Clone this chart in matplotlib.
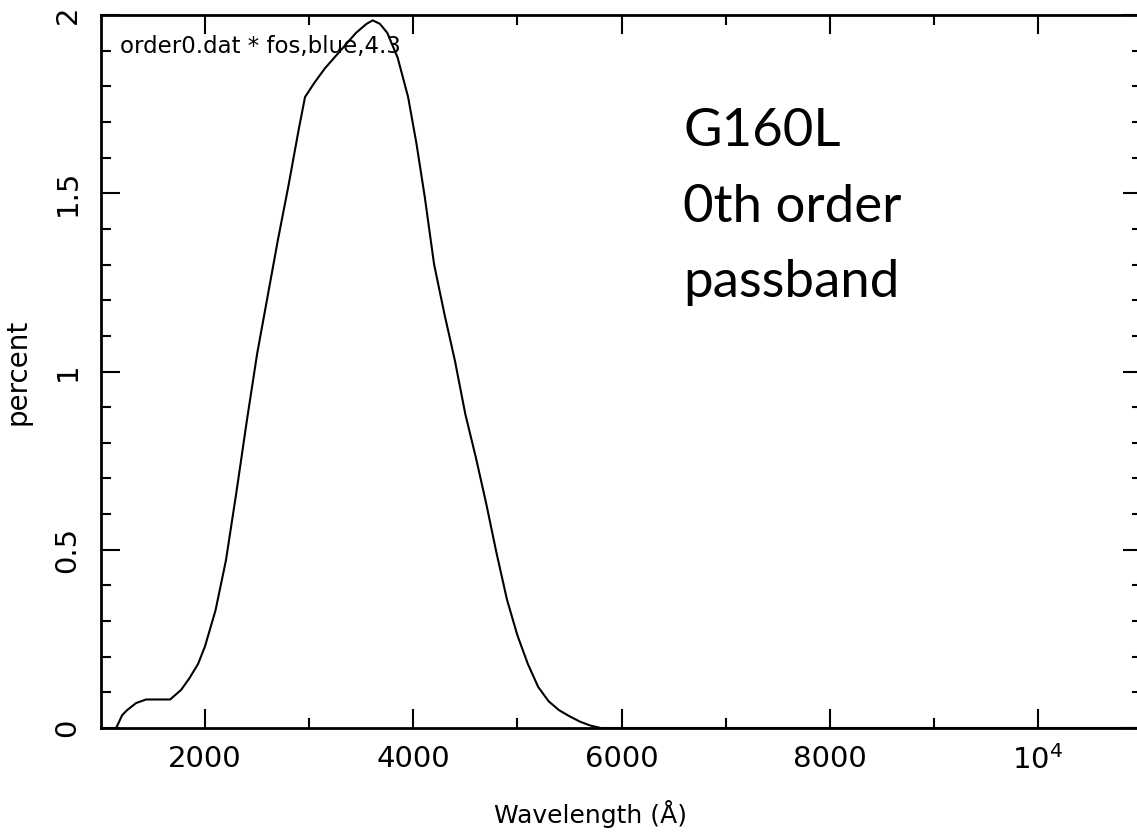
""" FOS G160L zeroth order passband """

import matplotlib
matplotlib.use('Agg')
import matplotlib.pyplot as plt
from matplotlib.ticker import MultipleLocator, FixedLocator

wavelength = [1145, 1175, 1203, 1250, 1337, 1433, 1550, 1664, 1770, 1850,
              1933, 2000, 2100, 2200, 2300, 2400, 2500, 2600, 2700, 2800,
              2900, 2960, 3050, 3150, 3300, 3450, 3550, 3610, 3680, 3750,
              3850, 3950, 4030, 4110, 4200, 4300, 4400, 4500, 4600, 4700,
              4800, 4900, 5000, 5100, 5200, 5300, 5400, 5500, 5600, 5700,
              5800, 11000]
percent = [0.0, 0.018, 0.036, 0.05, 0.07, 0.08, 0.08, 0.08, 0.107, 0.14,
           0.18, 0.23, 0.33, 0.47, 0.66, 0.86, 1.05, 1.21, 1.37, 1.52,
           1.68, 1.77, 1.81, 1.85, 1.90, 1.95, 1.975, 1.985, 1.975, 1.95,
           1.88, 1.77, 1.64, 1.49, 1.30, 1.16, 1.03, 0.88, 0.76, 0.63,
           0.49, 0.36, 0.26, 0.18, 0.115, 0.075, 0.05, 0.033, 0.018, 0.007,
           0.0, 0.0]

x_ticks = [2000, 4000, 6000, 8000, 10000]
x_tick_labels = ['2000', '4000', '6000', '8000', r'$\mathregular{10^4}$']
y_ticks = [0, 0.5, 1, 1.5, 2]
y_tick_labels = ['0', '0.5', '1', '1.5', '2']


def draw_passband():
    fig = plt.figure(figsize=(11.37, 8.34), dpi=100)
    ax = fig.add_axes([101 / 1137, 106 / 834, 1041 / 1137, 713 / 834])

    ax.plot(wavelength, percent, color='black', linewidth=1.5)

    ax.set_xlim(1000, 11000)
    ax.set_ylim(0, 2)

    ax.xaxis.set_major_locator(FixedLocator(x_ticks))
    ax.xaxis.set_minor_locator(FixedLocator([3000, 5000, 7000, 9000]))
    ax.set_xticklabels(x_tick_labels)
    ax.yaxis.set_major_locator(FixedLocator(y_ticks))
    ax.yaxis.set_minor_locator(MultipleLocator(0.1))
    ax.set_yticklabels(y_tick_labels, rotation=90, va='center')

    ax.tick_params(which='both', direction='in', top=True, right=True,
                   width=1.5, colors='black')
    ax.tick_params(which='major', length=14)
    ax.tick_params(which='minor', length=7)
    ax.tick_params(axis='x', which='major', labelsize=21, pad=12)
    ax.tick_params(axis='y', which='major', labelsize=21, pad=14)

    for spine in ax.spines.values():
        spine.set_linewidth(2)

    ax.set_xlabel('Wavelength (Å)', fontsize=18)
    ax.xaxis.set_label_coords((590 - 101) / 1041, -(800 - 728) / 713)
    ax.set_ylabel('percent', fontsize=20)
    ax.yaxis.set_label_coords(-(101 - 31) / 1041, (728 - 372) / 713)

    fig.text(120 / 1137, 1 - 46 / 834, 'order0.dat * fos,blue,4.3',
             fontsize=16.5, va='center')

    # handwritten note on the original scan
    note = {'fontsize': 38, 'fontfamily': 'Lato', 'color': 'black'}
    fig.text(683 / 1137, 1 - 132 / 834, 'G160L', va='center', **note)
    fig.text(683 / 1137, 1 - 207 / 834, '0th order', va='center', **note)
    fig.text(683 / 1137, 1 - 282 / 834, 'passband', va='center', **note)

    fig.savefig('out.png', dpi=100)


def main():
    draw_passband()


if __name__ == '__main__':
    main()
